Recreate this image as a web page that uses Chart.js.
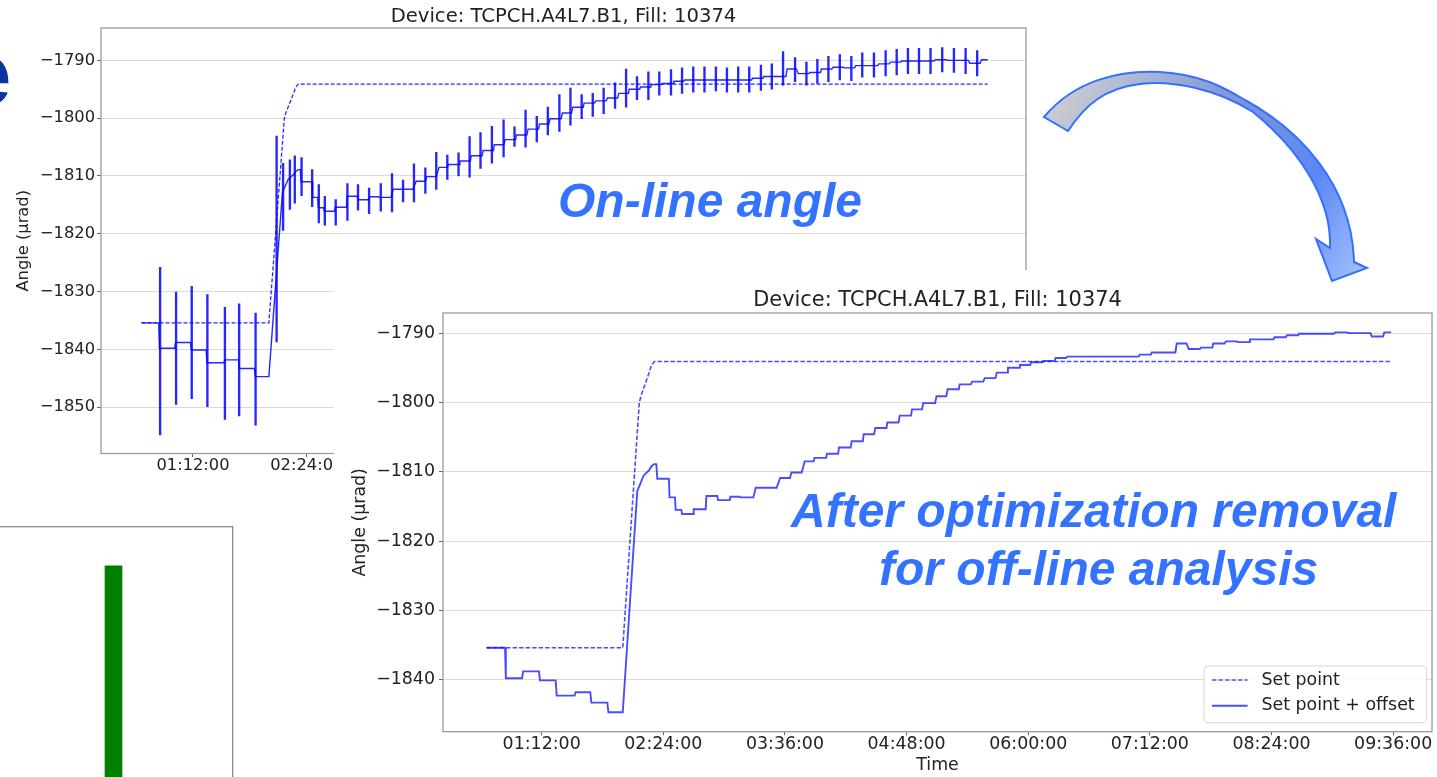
<!DOCTYPE html>
<html>
<head>
<meta charset="utf-8">
<script src="https://cdn.jsdelivr.net/npm/chart.js"></script>
<style>
html,body{margin:0;padding:0;width:1437px;height:777px;overflow:hidden;background:#fff;}
canvas{position:absolute;display:block;}
#cA{left:0;top:0;}
#cC{left:-10px;top:520px;}
#cB{left:334px;top:270px;background:#fff;}
#ov{position:absolute;left:0;top:0;pointer-events:none;}
</style>
</head>
<body>
<canvas id="cA" width="1127" height="490"></canvas>
<canvas id="cC" width="250" height="300"></canvas>
<canvas id="cB" width="1207" height="507"></canvas>
<svg id="ov" width="1437" height="777" viewBox="0 0 1437 777">
  <defs>
    <linearGradient id="ag" gradientUnits="userSpaceOnUse" x1="1044" y1="100" x2="1365" y2="280">
      <stop offset="0" stop-color="#d0d0d0"/>
      <stop offset="0.45" stop-color="#7e96d8"/>
      <stop offset="0.75" stop-color="#5a88f4"/>
      <stop offset="1" stop-color="#a8c3ff"/>
    </linearGradient>
  </defs>
  <path d="M1044,117 C1075,80 1120,70 1160,72 C1200,74 1225,88 1245,100 C1300,130 1352,185 1354,262 L1367,268 L1332,281 L1316,239 L1330,248 C1332,200 1300,150 1253,112 C1215,88 1170,80 1140,84 C1105,88 1085,105 1068,131 Z"
        fill="url(#ag)" stroke="#3370ff" stroke-width="2" stroke-linejoin="miter"/>
  <text x="-37" y="104" font-family="Liberation Sans, Arial, sans-serif" font-weight="bold" font-size="87" fill="#0a34a0">e</text>
  <g font-family="Liberation Sans, Arial, sans-serif" font-weight="bold" font-style="italic" font-size="48" fill="#3373ff">
    <text x="558" y="216.5">On-line angle</text>
    <text x="791" y="526.7">After optimization removal</text>
    <text x="879" y="585">for off-line analysis</text>
  </g>
</svg>
<script>
// ---------------- data (time in minutes since 00:00, angle in µrad) ----------------
const timeTicks  = [72, 144, 216, 288, 360, 432, 504, 576];
const timeLabels = ['01:12:00','02:24:00','03:36:00','04:48:00','06:00:00','07:12:00','08:24:00','09:36:00'];
const angleTicksA = [-1850, -1840, -1830, -1820, -1810, -1800, -1790];
const angleTicksB = [-1840, -1830, -1820, -1810, -1800, -1790];

// Set point (dashed)
const setTime  = [39.4, 120.0, 129.8, 131.0, 134.2, 137.1, 138.7, 574.8];
const setValue = [-1835.4, -1835.4, -1800.0, -1798.9, -1796.7, -1794.6, -1794.1, -1794.1];

// Set point + offset (solid)
const offsetTime = [
  39.4,50.3, 50.8,60.4, 61.0,70.4, 71.0,80.3, 80.9,91.5, 92.1,100.8, 101.4,110.9, 111.5,120.0,
  128.6,130.6,132.2,134.2,135.5,137.1,138.5,139.9,
  140.4,147.3, 147.7,150.9, 151.3,154.7, 155.1,161.6, 162.0,169.1, 169.5,176.0, 176.4,183.3, 183.7,189.3, 189.7,197.3,
  198.7,211.1, 213.2,219.0, 219.8,225.9, 227.7,233.0, 233.5,240.4, 240.9,247.5, 248.0,254.9, 255.5,262.1, 262.6,268.7, 269.5,276.1,
  276.6,283.2, 284.0,290.6, 291.2,297.2, 297.8,304.9, 305.7,311.5, 312.3,318.9, 319.4,326.0, 326.8,333.4, 334.2,340.6, 341.4,347.5,
  348.0,354.6, 355.1,361.2, 361.7,368.3, 369.1,375.7, 376.2,382.3, 383.1,425.4, 426.0,432.6, 433.1,447.1, 447.9,453.7, 455.0,461.6,
  462.1,469.0, 469.5,476.2, 477.0,483.3, 484.1,490.7, 491.2,505.2, 505.8,512.4, 513.2,519.8, 520.3,540.9, 541.7,548.9, 549.4,562.6,
  563.4,570.0, 570.8,574.8
];
const offsetValue = [
  -1835.4,-1835.4, -1839.8,-1839.8, -1838.8,-1838.8, -1840.1,-1840.1, -1842.3,-1842.3, -1841.8,-1841.8, -1843.3,-1843.3, -1844.7,-1844.7,
  -1812.8,-1811.6,-1810.6,-1810.1,-1809.8,-1809.2,-1808.9,-1808.9,
  -1811.0,-1811.0, -1813.7,-1813.7, -1815.5,-1815.5, -1816.1,-1816.1, -1815.4,-1815.4, -1813.5,-1813.5, -1814.1,-1814.1, -1813.6,-1813.6, -1813.7,-1813.7,
  -1812.3,-1812.3, -1810.9,-1810.9, -1810.1,-1810.1, -1808.5,-1808.5, -1808.0,-1808.0, -1807.4,-1807.4, -1806.5,-1806.5, -1805.6,-1805.6, -1804.6,-1804.6, -1803.7,-1803.7,
  -1802.9,-1802.9, -1801.9,-1801.9, -1801.0,-1801.0, -1800.1,-1800.1, -1799.1,-1799.1, -1798.1,-1798.1, -1797.4,-1797.4, -1797.0,-1797.0, -1796.5,-1796.5, -1795.7,-1795.7,
  -1795.0,-1795.0, -1794.6,-1794.6, -1794.2,-1794.2, -1794.0,-1794.0, -1793.6,-1793.6, -1793.4,-1793.4, -1793.1,-1793.1, -1792.8,-1792.8, -1791.5,-1791.5, -1792.3,-1792.3,
  -1792.1,-1792.1, -1791.5,-1791.5, -1791.2,-1791.2, -1791.3,-1791.3, -1790.9,-1790.9, -1790.6,-1790.6, -1790.3,-1790.3, -1790.1,-1790.1, -1789.9,-1789.9, -1790.0,-1790.0,
  -1790.5,-1790.5, -1789.9,-1789.9
];

// On-line error bars (centre and half length)
const errTime = [
  51.2,61.3,71.2,81.1,92.2,101.2,111.6,
  124.9,129.0,133.3,136.4,140.7,
  147.4,151.6,155.4,
  162.3,169.7,176.4,183.4,190.8,
  197.9,204.9,211.8,219.0,225.9,232.9,240.0,247.0,253.9,261.1,
  268.5,275.4,282.4,289.5,296.5,303.8,310.8,317.9,324.9,331.8,
  339.0,346.0,352.9,360.1,367.0,374.4,381.4,388.5,395.6,402.8,
  409.8,416.9,423.9,431.3,438.2,445.3,452.9,460.1,467.0,474.0,
  481.2,488.5,495.4,502.8,510.2,517.2,524.3,531.3,538.6,546.0,
  553.4,560.8,568.1
];
const errCenter = [
  -1840.3,-1839.8,-1838.8,-1840.2,-1842.4,-1841.8,-1843.4,
  -1820.9,-1813.6,-1811.5,-1810.6,-1810.1,
  -1812.1,-1814.8,-1816.0,
  -1816.3,-1814.5,-1813.7,-1814.3,-1813.7,
  -1812.9,-1812.6,-1811.2,-1810.8,-1809.1,-1808.5,-1808.0,-1806.7,-1805.6,-1804.6,
  -1803.5,-1803.2,-1801.8,-1801.9,-1800.5,-1799.1,-1798.0,-1798.0,-1797.7,-1797.0,
  -1796.1,-1794.8,-1794.8,-1794.4,-1794.0,-1793.8,-1793.5,-1793.3,-1793.3,-1793.2,
  -1793.4,-1793.3,-1793.3,-1793.0,-1792.8,-1791.4,-1791.6,-1792.3,-1791.9,-1791.5,
  -1791.2,-1791.4,-1790.8,-1790.8,-1790.5,-1790.3,-1790.1,-1790.1,-1790.1,-1789.9,
  -1790.0,-1790.1,-1790.5
];
const errHalf = [
  14.5,9.7,9.7,9.7,9.7,9.7,9.7,
  17.8,5.8,4.3,4.1,3.3,
  3.2,3.3,2.5,
  2.2,3.2,2.2,2.2,2.4,
  3.3,1.9,3.3,2.2,3.2,2.1,2.0,3.5,3.1,3.2,
  3.2,1.7,3.2,2.2,2.4,3.2,3.2,2.1,2.0,2.2,
  2.2,3.3,2.0,2.4,2.0,2.2,2.2,2.2,2.2,2.1,
  2.1,2.2,2.2,2.2,2.2,2.9,2.1,2.0,2.1,2.2,
  2.2,2.1,2.1,2.1,2.2,2.2,2.2,2.2,2.2,2.1,
  2.1,2.2,2.2
];

// Partially visible green bar chart (bottom-left)
const barCategories = [''];
const barValues = [0.867];

// ---------------- helpers ----------------
Chart.defaults.font.family = 'DejaVu Sans';
Chart.defaults.color = '#222';
const pts = (xs, ys) => xs.map((x, i) => ({x: x, y: ys[i]}));
const minusFmt = v => (v < 0 ? '\u2212' : '') + Math.abs(v);

const framePlugin = {
  id: 'frame',
  afterDatasetsDraw(chart, args, o) {
    const {ctx, chartArea: a} = chart;
    ctx.save();
    ctx.strokeStyle = o.color || '#999';
    ctx.lineWidth = o.width || 1;
    ctx.strokeRect(a.left, a.top, a.right - a.left, a.bottom - a.top);
    ctx.restore();
  }
};

const boxLegend = {
  id: 'boxLegend',
  afterDraw(chart, args, o) {
    if (!o || !o.display) return;
    const {ctx, chartArea: a} = chart;
    const x1 = a.right - o.marginRight - o.width;
    const y1 = a.bottom - o.marginBottom - o.height;
    ctx.save();
    ctx.beginPath();
    ctx.roundRect(x1, y1, o.width, o.height, 4);
    ctx.fillStyle = 'rgba(255,255,255,0.85)';
    ctx.fill();
    ctx.strokeStyle = '#d6d6d6';
    ctx.lineWidth = 1;
    ctx.stroke();
    ctx.font = o.fontSize + 'px "DejaVu Sans"';
    ctx.textBaseline = 'middle';
    ctx.fillStyle = '#222';
    const dsList = chart.data.datasets.filter(d => d.type !== 'bar');
    dsList.forEach((d, i) => {
      const cy = y1 + o.firstRow + i * o.rowGap;
      ctx.strokeStyle = d.borderColor;
      ctx.lineWidth = d.borderWidth;
      ctx.setLineDash(d.borderDash || []);
      ctx.beginPath();
      ctx.moveTo(x1 + 8, cy);
      ctx.lineTo(x1 + 43.6, cy);
      ctx.stroke();
      ctx.setLineDash([]);
      ctx.fillText(d.label, x1 + 57.4, cy);
    });
    ctx.restore();
  }
};

function makeLineChart(id, cfg) {
  return new Chart(document.getElementById(id), {
    type: 'line',
    data: { datasets: cfg.datasets },
    options: {
      responsive: false, animation: false, devicePixelRatio: 1,
      layout: { padding: 0 },
      plugins: {
        legend: { display: false },
        tooltip: { enabled: false },
        title: {
          display: true, text: 'Device: TCPCH.A4L7.B1, Fill: 10374', color: '#222',
          font: { family: 'DejaVu Sans', size: cfg.titleSize, weight: 'normal', lineHeight: 1 },
          padding: cfg.titlePad
        },
        frame: { color: '#9a9a9a', width: 1.3 },
        boxLegend: cfg.legend || { display: false }
      },
      scales: {
        x: {
          type: 'linear', min: cfg.xmin, max: cfg.xmax, offset: false,
          afterBuildTicks: s => { s.ticks = timeTicks.map(v => ({ value: v })); },
          afterFit: s => { s.height = cfg.xh; s.paddingLeft = 0; s.paddingRight = 0; },
          ticks: {
            autoSkip: false, maxRotation: 0, minRotation: 0, padding: cfg.xTickPad, color: '#222',
            font: { size: cfg.tickSize, lineHeight: 1 },
            callback: v => timeLabels[timeTicks.indexOf(v)]
          },
          grid: { drawOnChartArea: false, drawTicks: true, tickLength: 3.5, tickColor: '#666', offset: false },
          border: { display: false },
          title: cfg.xTitle
        },
        y: {
          type: 'linear', position: 'left', min: cfg.ymin, max: cfg.ymax,
          afterBuildTicks: s => { s.ticks = cfg.yTicks.map(v => ({ value: v })); },
          afterFit: s => { s.width = cfg.yw; s.paddingTop = 0; s.paddingBottom = 0; },
          ticks: { padding: cfg.yTickPad, color: '#222', font: { size: cfg.tickSize, lineHeight: 1 }, callback: v => minusFmt(v) },
          grid: { color: '#dadada', lineWidth: 1, drawTicks: true, tickLength: 4, tickColor: '#666' },
          border: { display: false },
          title: {
            display: true, text: 'Angle (\u03bcrad)', color: '#222',
            font: { size: cfg.tickSize, lineHeight: 1 }, padding: { top: cfg.yTitlePad, bottom: 0 }
          }
        },
        yR: {
          type: 'linear', position: 'right', display: true, min: 0, max: 1,
          afterFit: s => { s.width = cfg.yw; s.paddingTop = 0; s.paddingBottom = 0; },
          ticks: { display: false },
          grid: { display: false, drawTicks: false },
          border: { display: false }
        }
      }
    },
    plugins: [framePlugin, boxLegend]
  });
}

// ---------------- Chart A: on-line angle (with error bars) ----------------
const blueA = 'rgba(0,0,255,0.85)';
makeLineChart('cA', {
  titleSize: 19.6, titlePad: { top: 7.3, bottom: 1.1 },
  xmin: 13.8, xmax: 599, xh: 36.5, xTickPad: 0.75,
  ymin: -1858, ymax: -1784.4, yw: 101, yTickPad: 2, yTitlePad: 15.7,
  yTicks: angleTicksA, tickSize: 16.3,
  xTitle: { display: false },
  datasets: [
    { label: 'Set point + offset', data: pts(offsetTime, offsetValue), borderColor: blueA, borderWidth: 1.4,
      pointRadius: 0, fill: false, tension: 0, order: 0 },
    { label: 'Set point', data: pts(setTime, setValue), borderColor: blueA, borderWidth: 1.3, borderDash: [4, 2],
      pointRadius: 0, fill: false, tension: 0, order: 1 },
    { type: 'bar', label: 'Error', data: errTime.map((t, i) => ({ x: t, y: [errCenter[i] - errHalf[i], errCenter[i] + errHalf[i]] })),
      backgroundColor: blueA, borderWidth: 0, barThickness: 1.7, grouped: false, order: 2 }
  ]
});

// ---------------- Chart C: partially visible green bar ----------------
new Chart(document.getElementById('cC'), {
  type: 'bar',
  data: { labels: barCategories, datasets: [{ label: 'value', data: barValues, backgroundColor: '#008000', barThickness: 17 }] },
  options: {
    responsive: false, animation: false, devicePixelRatio: 1,
    layout: { padding: { left: 4.3, right: 7.3, top: 6.7, bottom: 0 } },
    plugins: { legend: { display: false }, tooltip: { enabled: false }, frame: { color: '#8a8a8a', width: 1.3 } },
    scales: {
      x: { display: false },
      y: { display: false, min: 0, max: 1 }
    }
  },
  plugins: [framePlugin]
});

// ---------------- Chart B: after optimization removal ----------------
const blueB = 'rgba(0,0,255,0.7)';
makeLineChart('cB', {
  titleSize: 20.9, titlePad: { top: 20.25, bottom: 1.85 },
  xmin: 13.6, xmax: 599, xh: 45.3, xTickPad: 0.6,
  ymin: -1847.5, ymax: -1787.1, yw: 109, yTickPad: 4, yTitlePad: 17.6,
  yTicks: angleTicksB, tickSize: 17.4,
  xTitle: { display: true, text: 'Time', color: '#222', font: { size: 17.4, lineHeight: 1 }, padding: { top: 0, bottom: 3.3 } },
  legend: { display: true, width: 222.6, height: 56.7, marginRight: 5.4, marginBottom: 9, firstRow: 14, rowGap: 25.7, fontSize: 17.4 },
  datasets: [
    { label: 'Set point', data: pts(setTime, setValue), borderColor: blueB, borderWidth: 1.6, borderDash: [4.5, 2],
      pointRadius: 0, fill: false, tension: 0, order: 1 },
    { label: 'Set point + offset', data: pts(offsetTime, offsetValue), borderColor: blueB, borderWidth: 1.9,
      pointRadius: 0, fill: false, tension: 0, order: 0 }
  ]
});
</script>
</body>
</html>
